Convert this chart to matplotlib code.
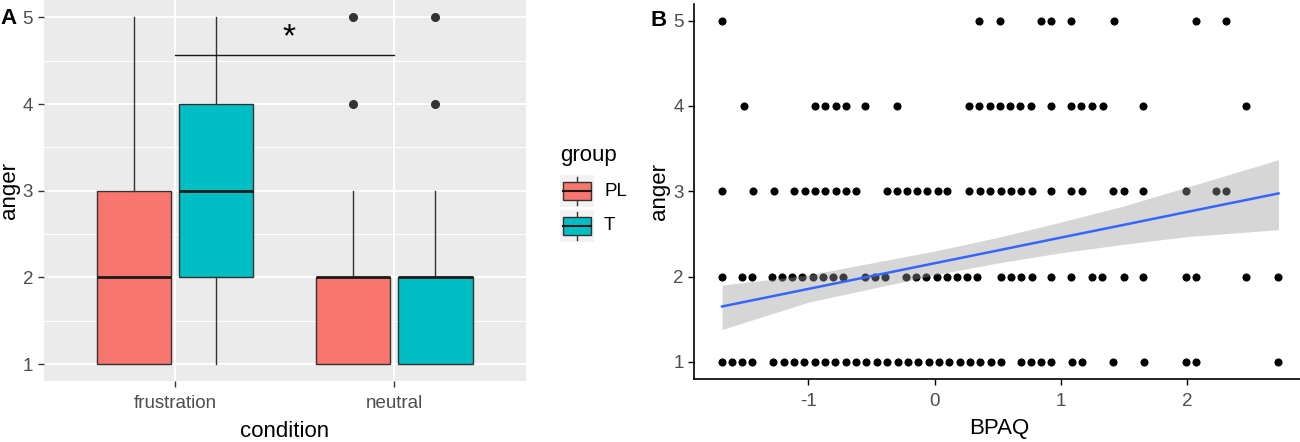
import numpy as np
import matplotlib
matplotlib.use("Agg")
import matplotlib.pyplot as plt
from matplotlib.patches import Rectangle
from matplotlib.lines import Line2D

plt.rcParams["font.family"] = ["Liberation Sans", "DejaVu Sans"]
plt.rcParams["axes.unicode_minus"] = False

# --- Panel A: anger by condition and group (boxplot summary) ---
conditions = ["frustration", "neutral"]
groups = ["PL", "T"]
group_colors = ["#F8766D", "#00BFC4"]

# one entry per (condition, group): PL-frustration, T-frustration, PL-neutral, T-neutral
box_whislo = [1, 1, 1, 1]
box_q1 = [1, 2, 1, 1]
box_med = [2, 3, 2, 2]
box_q3 = [3, 4, 2, 2]
box_whishi = [5, 5, 3, 3]
box_fliers = [[], [], [4, 5], [4, 5]]

sig_x = [1, 2]
sig_y = 4.57
sig_label = "*"

# --- Panel B: anger vs BPAQ ---
bpaq_5 = [-1.685, 0.354, 0.515, 0.843, 0.921, 1.082, 1.416, 2.066, 2.302]
bpaq_4 = [-1.511, -0.944, -0.866, -0.784, -0.705, -0.548, -0.295, 0.272, 0.354,
          0.436, 0.515, 0.593, 0.672, 0.764, 0.921, 1.082, 1.161, 1.243, 1.334,
          1.652, 2.462]
bpaq_3 = [-1.683, -1.438, -1.275, -1.111, -1.030, -0.948, -0.866, -0.785, -0.703,
          -0.621, -0.378, -0.299, -0.220, -0.141, -0.062, 0.022, 0.101, 0.275,
          0.357, 0.439, 0.521, 0.600, 0.685, 0.767, 0.921, 1.082, 1.164, 1.413,
          1.495, 1.652, 1.987, 2.226, 2.308]
bpaq_2 = [-1.683, -1.525, -1.446, -1.288, -1.209, -1.130, -1.051, -0.967, -0.885,
          -0.806, -0.722, -0.550, -0.471, -0.392, -0.226, -0.147, -0.068, 0.017,
          0.096, 0.175, 0.254, 0.338, 0.521, 0.600, 0.685, 0.767, 0.921, 1.082,
          1.243, 1.325, 1.495, 1.652, 1.987, 2.066, 2.462, 2.718]
bpaq_1 = [-1.683, -1.604, -1.525, -1.446, -1.278, -1.196, -1.114, -1.032, -0.950,
          -0.868, -0.786, -0.704, -0.622, -0.540, -0.458, -0.376, -0.294, -0.212,
          -0.130, -0.048, 0.034, 0.116, 0.198, 0.280, 0.362, 0.444, 0.523, 0.679,
          0.762, 0.843, 0.922, 1.083, 1.165, 1.414, 1.654, 1.988, 2.067, 2.720]

# linear fit and its 95% band
fit_x = [-1.683, -1.0, 0.0, 0.5, 1.0, 1.5, 2.0, 2.72]
fit_y = [1.650, 1.856, 2.157, 2.307, 2.458, 2.608, 2.759, 2.975]
band_lo = [1.38, 1.70, 2.02, 2.16, 2.28, 2.38, 2.47, 2.55]
band_hi = [1.90, 2.02, 2.30, 2.46, 2.64, 2.83, 3.05, 3.37]

TICK_GREY = "#4D4D4D"
TICK_SIZE = 13.5
TITLE_SIZE = 16

fig = plt.figure(figsize=(13, 4.42), dpi=100)

# ---------------- Panel A ----------------
axA = fig.add_axes([0.0335, 0.137, 0.371, 0.863])
axA.set_facecolor("#EBEBEB")
axA.set_xlim(0.4, 2.6)
axA.set_ylim(0.8, 5.2)

for y in [1.5, 2.5, 3.5, 4.5]:
    axA.axhline(y, color="white", lw=0.7, zorder=0)
for y in [1, 2, 3, 4, 5]:
    axA.axhline(y, color="white", lw=1.4, zorder=0)
for x in [1, 2]:
    axA.axvline(x, color="white", lw=1.4, zorder=0)

offsets = [-0.1875, 0.1875]
stats, positions, colors = [], [], []
for i in range(4):
    c_idx, g_idx = divmod(i, 2)
    stats.append(dict(whislo=box_whislo[i], q1=box_q1[i], med=box_med[i],
                      q3=box_q3[i], whishi=box_whishi[i], fliers=box_fliers[i]))
    positions.append(c_idx + 1 + offsets[g_idx])
    colors.append(group_colors[g_idx])

bp = axA.bxp(stats, positions=positions, widths=0.34, patch_artist=True,
             showcaps=False, manage_ticks=False,
             boxprops=dict(edgecolor="#333333", lw=1.0),
             whiskerprops=dict(color="#333333", lw=1.0),
             medianprops=dict(color="#1A1A1A", lw=2.0),
             flierprops=dict(marker="o", markerfacecolor="#333333",
                             markeredgecolor="#333333", markersize=5.5))
for patch, col in zip(bp["boxes"], colors):
    patch.set_facecolor(col)

axA.plot(sig_x, [sig_y, sig_y], color="#1A1A1A", lw=1.0)
axA.text(np.mean(sig_x) + 0.02, sig_y + 0.02, sig_label, ha="center", va="bottom",
         fontsize=24, color="black")

axA.set_xticks([1, 2])
axA.set_xticklabels(conditions)
axA.set_yticks([1, 2, 3, 4, 5])
for s in axA.spines.values():
    s.set_visible(False)
axA.tick_params(colors="#333333", labelcolor=TICK_GREY, labelsize=TICK_SIZE,
                length=4, width=1)
axA.tick_params(axis="x", pad=6)
axA.set_xlabel("condition", fontsize=TITLE_SIZE, labelpad=6)
axA.set_ylabel("anger", fontsize=TITLE_SIZE, labelpad=2)

# legend drawn by hand like ggplot keys
fig.text(560 / 1300, 1 - 155 / 442, "group", fontsize=TITLE_SIZE, va="center", ha="left")
for k, (g, col) in enumerate(zip(groups, group_colors)):
    cy = 1 - (191 + 35 * k) / 442
    fig.add_artist(Rectangle((560 / 1300, cy - 16 / 442), 34 / 1300, 32 / 442,
                             transform=fig.transFigure, facecolor="#F2F2F2",
                             edgecolor="none", zorder=1))
    fig.add_artist(Line2D([577 / 1300, 577 / 1300], [cy - 14 / 442, cy + 14 / 442],
                          transform=fig.transFigure, color="#333333", lw=1.0, zorder=2))
    fig.add_artist(Rectangle((563 / 1300, cy - 9 / 442), 28 / 1300, 18 / 442,
                             transform=fig.transFigure, facecolor=col,
                             edgecolor="#333333", lw=1.0, zorder=3))
    fig.add_artist(Line2D([563 / 1300, 591 / 1300], [cy, cy],
                          transform=fig.transFigure, color="#1A1A1A", lw=1.5, zorder=4))
    fig.text(604 / 1300, cy, g, fontsize=TICK_SIZE, va="center", ha="left")

fig.text(0.0, 1 - 18 / 442, "A", fontsize=16, fontweight="bold", va="center")

# ---------------- Panel B ----------------
axB = fig.add_axes([694 / 1300, 1 - 379 / 442, 611 / 1300, 375.4 / 442])
xs = bpaq_1 + bpaq_2 + bpaq_3 + bpaq_4 + bpaq_5
ys = ([1] * len(bpaq_1) + [2] * len(bpaq_2) + [3] * len(bpaq_3)
      + [4] * len(bpaq_4) + [5] * len(bpaq_5))
axB.scatter(xs, ys, s=34, color="black", zorder=2, linewidths=0)

axB.fill_between(fit_x, band_lo, band_hi, color="#999999", alpha=0.4, lw=0, zorder=3)
axB.plot(fit_x, fit_y, color="#3366FF", lw=1.8, zorder=4)

axB.set_xlim(-1.905, 2.93)
axB.set_ylim(0.8, 5.2)
axB.set_xticks([-1, 0, 1, 2])
axB.set_yticks([1, 2, 3, 4, 5])
axB.spines["top"].set_visible(False)
axB.spines["right"].set_visible(False)
for side in ["left", "bottom"]:
    axB.spines[side].set_linewidth(1.2)
axB.tick_params(colors="black", labelcolor=TICK_GREY, labelsize=TICK_SIZE,
                length=4, width=1)
axB.tick_params(axis="x", pad=6)
axB.set_xlabel("BPAQ", fontsize=TITLE_SIZE, labelpad=6)
axB.set_ylabel("anger", fontsize=TITLE_SIZE, labelpad=2)

fig.text(650 / 1300, 1 - 20 / 442, "B", fontsize=16, fontweight="bold", va="center")

fig.savefig("out.png", dpi=100)
plt.close(fig)
